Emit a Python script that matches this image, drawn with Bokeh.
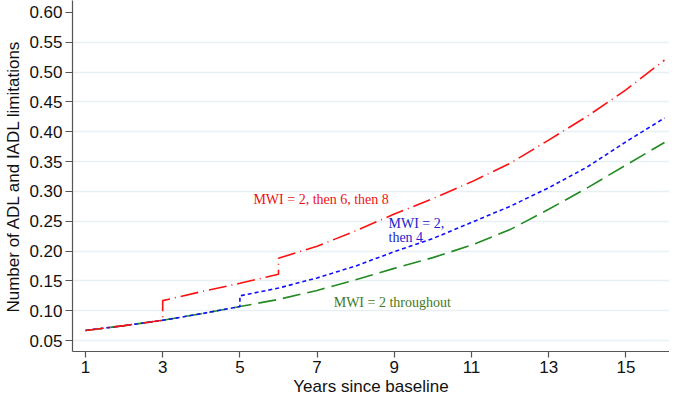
from bokeh.plotting import figure
from bokeh.models import FixedTicker, Range1d, NumeralTickFormatter
from bokeh.core.properties import value
from bokeh.embed import file_html
from bokeh.resources import INLINE

# ---- data ----
green_x = [1, 2, 3, 4, 5, 6, 7, 8, 9, 10, 11, 12, 13, 14, 15, 16]
green_y = [0.067, 0.075, 0.084, 0.095, 0.107, 0.119, 0.134, 0.152, 0.171,
           0.189, 0.210, 0.236, 0.270, 0.306, 0.344, 0.382]

blue_x = [1, 2, 3, 4, 5, 5, 6, 7, 8, 9, 10, 11, 12, 13, 14, 15, 16]
blue_y = [0.067, 0.075, 0.084, 0.095, 0.107, 0.125, 0.138, 0.155, 0.175,
          0.199, 0.221, 0.248, 0.275, 0.306, 0.341, 0.383, 0.423]

red_x = [1, 2, 3, 3, 4, 5, 6, 6, 7, 8, 9, 10, 11, 12, 13, 14, 15, 16]
red_y = [0.067, 0.075, 0.084, 0.117, 0.132, 0.146, 0.161, 0.188, 0.208,
         0.234, 0.262, 0.288, 0.316, 0.347, 0.386, 0.426, 0.470, 0.520]

x_ticks = [1, 3, 5, 7, 9, 11, 13, 15]
y_ticks = [0.05, 0.10, 0.15, 0.20, 0.25, 0.30, 0.35, 0.40, 0.45, 0.50, 0.55, 0.60]
grid_ticks = [0.05, 0.10, 0.15, 0.20, 0.25, 0.30, 0.35, 0.40, 0.45, 0.50, 0.55]

label_red = "MWI = 2, then 6, then 8"
label_blue = ["MWI = 2,", "then 4"]
label_green = "MWI = 2 throughout"

# ---- figure ----
p = figure(width=669, height=398, output_backend="svg", toolbar_location=None,
           x_range=Range1d(0.663, 16.13), y_range=Range1d(0.0317, 0.6199),
           min_border_left=72, min_border_right=0, min_border_top=0,
           min_border_bottom=44)
p.outline_line_color = None
p.background_fill_color = "white"
p.border_fill_color = "white"

p.xgrid.visible = False
p.ygrid.ticker = FixedTicker(ticks=grid_ticks)
p.ygrid.grid_line_color = "#e8f0f3"
p.ygrid.grid_line_width = 1.5

for ax in (p.xaxis[0], p.yaxis[0]):
    ax.axis_line_color = "#555555"
    ax.axis_line_width = 1.2
    ax.major_tick_line_color = "#555555"
    ax.major_tick_line_width = 1.2
    ax.major_tick_in = 0
    ax.minor_tick_line_color = None
    ax.major_label_text_font = "Liberation Sans"
    ax.major_label_text_font_size = "17px"
    ax.major_label_text_color = "#111111"
    ax.axis_label_text_font = "Liberation Sans"
    ax.axis_label_text_font_size = "17px"
    ax.axis_label_text_font_style = "normal"
    ax.axis_label_text_color = "#111111"

p.xaxis.ticker = FixedTicker(ticks=x_ticks)
p.yaxis.ticker = FixedTicker(ticks=y_ticks)
p.yaxis.formatter = NumeralTickFormatter(format="0.00")
p.xaxis.major_tick_out = 6
p.yaxis.major_tick_out = 7
p.xaxis.major_label_standoff = 3
p.yaxis.major_label_standoff = 3
p.xaxis.axis_label = "Years since baseline"
p.yaxis.axis_label = "Number of ADL and IADL limitations"
p.xaxis.axis_label_standoff = 1
p.yaxis.axis_label_standoff = 3

# ---- lines ----
p.line(green_x, green_y, line_color="#228b22", line_width=1.6, line_dash="18 7")
p.line(blue_x, blue_y, line_color="#1010ff", line_width=1.6, line_dash="4 3")
p.line(red_x, red_y, line_color="#ff1010", line_width=1.6, line_dash="18 5 1 5")

# ---- labels ----
serif = value("Liberation Serif")
p.text(x=[5.35], y=[0.287], text=[label_red], text_color="#ee1111",
       text_font=serif, text_font_size="14px", text_baseline="middle",
       text_align="left")
p.text(x=[8.85, 8.85], y=[0.247, 0.222], text=label_blue, text_color="#2323cc",
       text_font=serif, text_font_size="14px", text_baseline="middle",
       text_align="left")
p.text(x=[7.43], y=[0.1145], text=[label_green], text_color="#3f7a22",
       text_font=serif, text_font_size="14px", text_baseline="middle",
       text_align="left")

open("out.html", "w").write(file_html(p, INLINE))
